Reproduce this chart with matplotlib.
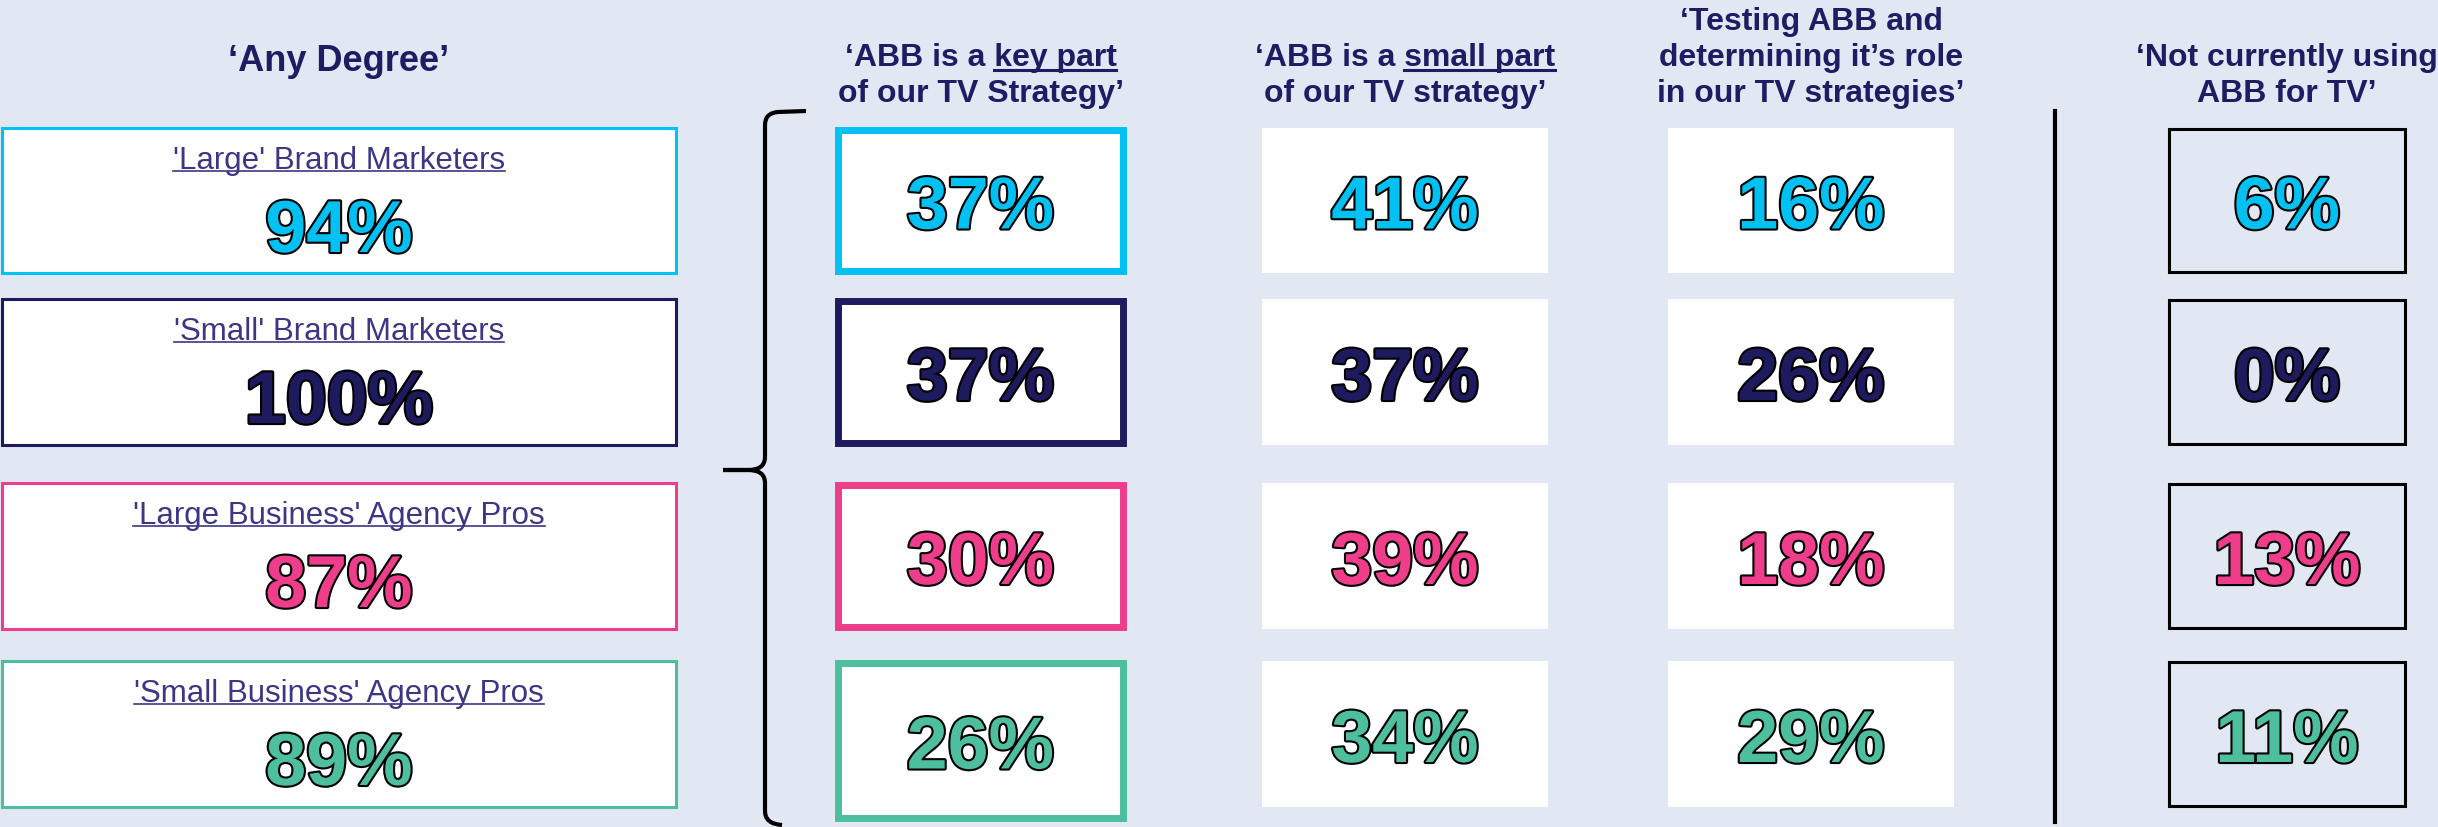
import matplotlib
matplotlib.use('Agg')
import matplotlib.pyplot as plt
from matplotlib.patches import Rectangle, PathPatch
from matplotlib.path import Path
import matplotlib.patheffects as pe

# data
groups = ["'Large' Brand Marketers", "'Small' Brand Marketers",
          "'Large Business' Agency Pros", "'Small Business' Agency Pros"]
any_degree = [94, 100, 87, 89]
key_part = [37, 37, 30, 26]
small_part = [41, 37, 39, 34]
testing = [16, 26, 18, 29]
not_using = [6, 0, 13, 11]
row_colors = ['#00C1F1', '#1E1A5E', '#EE3D8B', '#4DBF9F']

title = "‘Any Degree’"
headers = [
    (["‘ABB is a key part", "of our TV Strategy’"], "key part"),
    (["‘ABB is a small part", "of our TV strategy’"], "small part"),
    (["‘Testing ABB and", "determining it’s role", "in our TV strategies’"], None),
    (["‘Not currently using", "ABB for TV’"], None),
]

# layout (pixels)
W, H = 2438, 828
bg = '#E1E8F3'
navy = '#201C64'
sub_col = '#3B3785'
row_top = [129, 300, 484, 662]
row_bot = [274, 446, 630, 808]
left_x = (2, 676)
col_x = [(835, 1126), (1262, 1548), (1668, 1954), (2168, 2406)]

plt.rcParams['font.family'] = ['Liberation Sans', 'DejaVu Sans']

fig = plt.figure(figsize=(W / 100, H / 100), dpi=100, facecolor=bg)
ax = fig.add_axes([0, 0, 1, 1])
ax.set_xlim(0, W)
ax.set_ylim(H, 0)
ax.axis('off')
ax.set_facecolor(bg)
renderer = fig.canvas.get_renderer()

num_fx = [pe.Stroke(linewidth=3, foreground='black'), pe.Normal()]


def text_width(s, size, weight):
    t = ax.text(0, 0, s, fontsize=size, fontweight=weight)
    w = t.get_window_extent(renderer).width
    t.remove()
    return w


def big_number(x, y, val, color):
    ax.text(x, y, f"{val}%", fontsize=53, fontweight='bold', color=color,
            ha='center', va='baseline', path_effects=num_fx)


# title over the left column
ax.text(sum(left_x) / 2, 71, title, fontsize=26, fontweight='bold',
        color=navy, ha='center', va='baseline')

# left column: groups with 'any degree' share
for i, g in enumerate(groups):
    top, bot = row_top[i], row_bot[i]
    ax.add_patch(Rectangle((left_x[0], top), left_x[1] - left_x[0], bot - top,
                           facecolor='white', edgecolor=row_colors[i], lw=2.2))
    cx = sum(left_x) / 2
    t = ax.text(cx, top + 40, g, fontsize=22.5, color=sub_col,
                ha='center', va='baseline')
    bb = t.get_window_extent(renderer)
    ax.plot([bb.x0, bb.x1], [top + 43, top + 43], color=sub_col, lw=1.2)
    big_number(cx, top + 124, any_degree[i], row_colors[i])

# column headers
for (lines, under), (x0, x1) in zip(headers, col_x):
    cx = (x0 + x1) / 2
    base = [102 - 36 * (len(lines) - 1 - k) for k in range(len(lines))]
    for k, line in enumerate(lines):
        t = ax.text(cx, base[k], line, fontsize=23, fontweight='bold',
                    color=navy, ha='center', va='baseline')
        if under and k == 0:
            bb = t.get_window_extent(renderer)
            w = text_width(under, 23, 'bold')
            ax.plot([bb.x1 - w, bb.x1], [base[k] + 5, base[k] + 5],
                    color=navy, lw=2.2)

# column boxes
columns = [key_part, small_part, testing, not_using]
for c, vals in enumerate(columns):
    x0, x1 = col_x[c]
    for i, v in enumerate(vals):
        top, bot = row_top[i], row_bot[i]
        if c == 0:
            top -= 1
            bot = bot + 1 if i < 3 else 822
            ax.add_patch(Rectangle((x0 + 3, top + 3), x1 - x0 - 6, bot - top - 6,
                                   facecolor='white', edgecolor=row_colors[i], lw=5))
        elif c == 3:
            ax.add_patch(Rectangle((x0 + 1, top + 1), x1 - x0 - 2, bot - top - 2,
                                   facecolor=bg, edgecolor='black', lw=2.2))
        else:
            ax.add_patch(Rectangle((x0, top), x1 - x0, bot - top,
                                   facecolor='white', edgecolor='none'))
        big_number((x0 + x1) / 2, (top + bot) / 2 + 28, v, row_colors[i])

# curly brace grouping the breakdown
bx, tip = 765, 471
upper = Path([(806, 112), (778, 113), (bx, 114), (bx, 126), (bx, tip - 13),
              (bx, tip), (748, tip), (723, tip)],
             [Path.MOVETO, Path.LINETO, Path.CURVE3, Path.CURVE3, Path.LINETO,
              Path.CURVE3, Path.CURVE3, Path.LINETO])
lower = Path([(723, tip), (748, tip), (bx, tip), (bx, tip + 13), (bx, 812),
              (bx, 825), (782, 826)],
             [Path.MOVETO, Path.LINETO, Path.CURVE3, Path.CURVE3, Path.LINETO,
              Path.CURVE3, Path.CURVE3])
for p in (upper, lower):
    ax.add_patch(PathPatch(p, fill=False, edgecolor='black', lw=3,
                           capstyle='butt', joinstyle='round'))

# divider before 'not using'
ax.plot([2055, 2055], [112, 823], color='black', lw=3)

fig.savefig('out.png', dpi=100, facecolor=bg)
